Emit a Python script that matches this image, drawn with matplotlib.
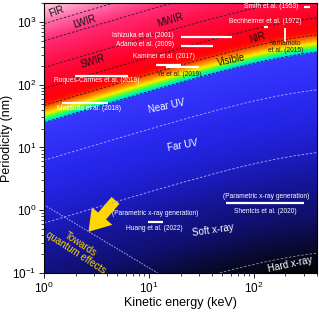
import numpy as np
import matplotlib
matplotlib.use("Agg")
import matplotlib.pyplot as plt
from matplotlib.colors import LinearSegmentedColormap, Normalize
from matplotlib.patches import FancyArrowPatch

plt.rcParams['font.family'] = ['Liberation Sans', 'DejaVu Sans']

# ---------------- data ----------------
E_range = [1.0, 400.0]          # keV
a_range = [0.1, 2000.0]         # nm

# band boundaries (emitted wavelength, nm)
boundary_lambda = [15000, 8000, 3000, 1400, 750, 400, 100, 10, 0.25]
boundary_color = ['#202020', '#202020', '#202020', '#202020', '#202020',
                  '#0a0a40', '#a8a8ff', '#a8a8ff', '#9090a8']

# band labels: text, E, a, rotation, color
band_text = ['FIR', 'LWIR', 'MWIR', 'SWIR', 'NIR', 'Visible',
             'Near UV', 'Far UV', 'Soft x-ray', 'Hard x-ray']
band_E = [1.33, 2.42, 16.1, 2.95, 108, 60.7, 14.8, 21.0, 40.8, 223]
band_a = [1456, 1007, 1083, 232, 570, 249, 46, 10.6, 0.485, 0.139]
band_rot = [20, 17, 17, 17, 17, 12, 12, 10, 8, 12]
band_color = ['#111111'] * 6 + ['white'] * 4

# experiments: horizontal bars (E1, E2, a)
bar_E1 = [300, 126, 20, 20, 11.6, 14.5, 1.98, 1.49, 9.9, 54]
bar_E2 = [345, 137, 62, 40.8, 20, 30, 6.25, 4.1, 13.5, 300]
bar_a = [1750, 830, 566, 406, 207, 193, 139, 51, 0.65, 1.3]
# Yamamoto vertical bar
yam_E = 200
yam_a = [483, 807]

cite_text = ['Smith et al. (1953)', 'Bechheimer et al. (1972)',
             'Yamamoto\net al. (2015)', 'Ishizuka et al. (2001)',
             'Adamo et al. (2009)', 'Kaminer et al. (2017)',
             'Roques-Carmes et al. (2019)', 'Ye et al. (2019)',
             'Massuda et al. (2018)', '(Parametric x-ray generation)',
             'Huang et al. (2022)', '(Parametric x-ray generation)',
             'Shentcis et al. (2020)']
cite_E = [147, 129, 200, 8.7, 9.1, 13.8, 3.15, 19.3, 2.7, 11.6, 11.3, 131.5, 128.6]
cite_a = [1746, 1007, 395, 603, 432, 278, 115, 144, 41.3, 0.873, 0.504, 1.63, 0.94]
cite_color = ['white', 'white', '#222222', 'white', 'white', 'white',
              'white', '#222222', 'white', 'white', 'white', 'white', 'white']

quantum_E = [1.0, 12.1]
quantum_a = [1.22, 0.1]
arrow_tail = (5.0, 1.55)
arrow_tip = (2.55, 0.42)

# ---------------- colour map on log10(wavelength) ----------------
anchors = [
    (-1.0, (0.0, 0.0, 0.0)),
    (-0.6, (0.03, 0.03, 0.13)),
    (0.0, (0.06, 0.06, 0.42)),
    (0.5, (0.08, 0.08, 0.58)),
    (1.0, (0.11, 0.11, 0.76)),
    (1.5, (0.14, 0.14, 0.89)),
    (2.0, (0.17, 0.17, 0.96)),
    (2.6, (0.22, 0.22, 1.0)),
    (2.6025, (0.0, 0.75, 1.0)),
    (2.653, (0.0, 1.0, 0.7)),
    (2.699, (0.45, 1.0, 0.1)),
    (2.748, (1.0, 0.95, 0.0)),
    (2.80, (1.0, 0.65, 0.0)),
    (2.87, (1.0, 0.3, 0.0)),
    (2.93, (1.0, 0.05, 0.02)),
    (3.0, (1.0, 0.0, 0.06)),
    (3.146, (1.0, 0.0, 0.12)),
    (3.477, (1.0, 0.05, 0.26)),
    (3.903, (1.0, 0.17, 0.46)),
    (4.176, (1.0, 0.42, 0.66)),
    (4.6, (1.0, 0.96, 0.98)),
]
vmin, vmax = anchors[0][0], anchors[-1][0]
cmap = LinearSegmentedColormap.from_list(
    'sp', [((p - vmin) / (vmax - vmin), c) for p, c in anchors], N=1024)


def beta(E_keV):
    g = 1.0 + np.asarray(E_keV) / 511.0
    return np.sqrt(1.0 - 1.0 / g ** 2)


fig = plt.figure(figsize=(3.19, 3.12), dpi=100)
ax = fig.add_axes([44 / 319, 1 - 273 / 312, (317 - 44) / 319, (273 - 3) / 312])

Eg = np.logspace(np.log10(E_range[0]), np.log10(E_range[1]), 500)
ag = np.logspace(np.log10(a_range[0]), np.log10(a_range[1]), 700)
EE, AA = np.meshgrid(Eg, ag)
C = np.log10(AA / beta(EE))
ax.pcolormesh(EE, AA, C, cmap=cmap, norm=Normalize(vmin, vmax),
              shading='gouraud', rasterized=True)

# boundary lines
for lam, col in zip(boundary_lambda, boundary_color):
    ax.plot(Eg, lam * beta(Eg), ls=(0, (3, 2)), lw=0.6, color=col)

ax.plot(quantum_E, quantum_a, ls=(0, (2, 1.5)), lw=0.6, color='#b8b8ff')

for t, e, a, r, c in zip(band_text, band_E, band_a, band_rot, band_color):
    ax.text(e, a, t, rotation=r, color=c, fontsize=7, ha='center', va='center')

for e1, e2, a in zip(bar_E1, bar_E2, bar_a):
    ax.plot([e1, e2], [a, a], color='white', lw=1.6, solid_capstyle='butt')
ax.plot([yam_E, yam_E], yam_a, color='white', lw=1.3, solid_capstyle='butt')

for t, e, a, c in zip(cite_text, cite_E, cite_a, cite_color):
    ax.text(e, a, t, color=c, fontsize=4.8, ha='center', va='center',
            linespacing=1.0)

arr = FancyArrowPatch(arrow_tail, arrow_tip,
                      arrowstyle='simple,head_length=1.0,head_width=1.3,tail_width=0.5',
                      mutation_scale=15, color='#ffd800', lw=0)
ax.add_patch(arr)
ax.text(2.12, 0.25, 'Towards\nquantum effects', rotation=-33, color='#ffd700',
        fontsize=7, ha='center', va='center', linespacing=1.0)

ax.set_xscale('log')
ax.set_yscale('log')
ax.set_xlim(E_range)
ax.set_ylim(a_range)
ax.set_xlabel('Kinetic energy (keV)', fontsize=9, labelpad=1)
ax.set_ylabel('Periodicity (nm)', fontsize=9)
ax.yaxis.set_label_coords(-0.112, 0.5)
ax.tick_params(which='major', direction='out', length=3.5, width=0.6, labelsize=8.5, pad=2)
ax.tick_params(which='minor', direction='out', length=2, width=0.5)
for s in ax.spines.values():
    s.set_linewidth(0.8)

fig.savefig('out.png', dpi=100)
